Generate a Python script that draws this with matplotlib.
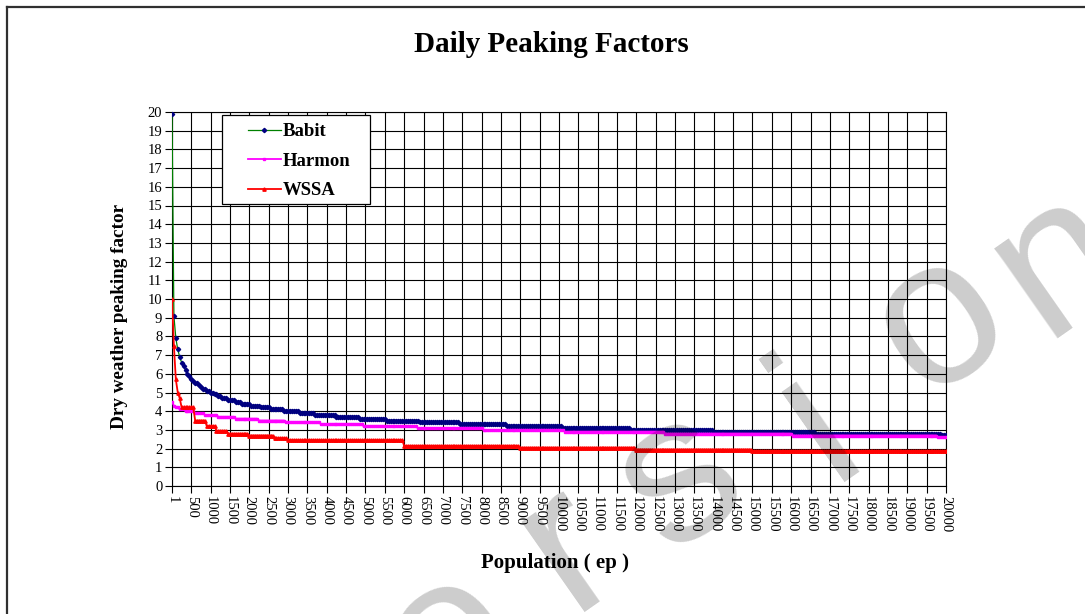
import numpy as np
import matplotlib.pyplot as plt
from matplotlib.lines import Line2D
from matplotlib.patches import Rectangle

plt.rcParams['font.family'] = 'Liberation Serif'

# population categories along the x axis
population = np.concatenate([[1], np.arange(50, 20001, 50)])

# each series as (population where a value starts, peaking factor)
babit_from = [1, 50, 100, 150, 200, 250, 300, 350, 400, 450, 500, 550, 600, 700,
              750, 800, 900, 1000, 1100, 1200, 1300, 1450, 1650, 1800, 2050, 2300,
              2550, 2900, 3300, 3700, 4250, 4850, 5550, 6400, 7450, 8650, 10100,
              11850, 14000, 16650, 19900]
babit_pf = [19.9, 9.1, 7.9, 7.3, 6.9, 6.6, 6.4, 6.2, 6.0, 5.9, 5.7, 5.6, 5.5, 5.4,
            5.3, 5.2, 5.1, 5.0, 4.9, 4.8, 4.7, 4.6, 4.5, 4.4, 4.3, 4.2,
            4.1, 4.0, 3.9, 3.8, 3.7, 3.6, 3.5, 3.4, 3.3, 3.2, 3.1,
            3.0, 2.9, 2.8, 2.75]

harmon_from = [1, 50, 100, 200, 350, 600, 850, 1200, 1650, 2250, 2950, 3850,
               4950, 6350, 8050, 10150, 12750, 16050, 19800]
harmon_pf = [4.5, 4.3, 4.2, 4.1, 4.0, 3.9, 3.8, 3.7, 3.6, 3.5, 3.4, 3.3,
             3.2, 3.1, 3.0, 2.9, 2.8, 2.7, 2.6]

wssa_from = [1, 50, 100, 150, 200, 250, 600, 900, 1150, 1450, 2000, 2650,
             3000, 6000, 9000, 12000, 15000]
wssa_pf = [10.0, 7.5, 5.7, 5.0, 4.7, 4.2, 3.5, 3.2, 2.95, 2.8, 2.7, 2.55,
           2.45, 2.15, 2.05, 1.95, 1.88]

x_ticks = [1] + list(range(500, 20001, 500))
y_ticks = list(range(0, 21))


def expand(starts, values):
    idx = np.searchsorted(starts, population, side='right') - 1
    return np.asarray(values)[idx]


babit = expand(babit_from, babit_pf)
harmon = expand(harmon_from, harmon_pf)
wssa = expand(wssa_from, wssa_pf)

W, H = 1085, 614
fig = plt.figure(figsize=(W / 100, H / 100), dpi=100)
ax = fig.add_axes([172 / W, 1 - 486 / H, 774 / W, 374 / H])

ax.plot(population, babit, color='#008000', lw=0.9, marker='D',
        markersize=2.2, markerfacecolor='#000080', markeredgecolor='#000080',
        label='Babit', zorder=3)
ax.plot(population, harmon, color='#FF00FF', lw=1.3, marker='s',
        markersize=2.0, markerfacecolor='#FF00FF', markeredgecolor='#FF00FF',
        label='Harmon', zorder=4)
ax.plot(population, wssa, color='#FF0000', lw=1.3, marker='^',
        markersize=2.4, markerfacecolor='#FF0000', markeredgecolor='#FF0000',
        label='WSSA', zorder=5)

ax.set_xlim(1, 20000)
ax.set_ylim(0, 20)
ax.set_xticks(x_ticks)
ax.set_xticklabels([str(t) for t in x_ticks], rotation=270, fontsize=10.5)
ax.set_yticks(y_ticks)
ax.set_yticklabels([str(t) for t in y_ticks], fontsize=10.5)
ax.tick_params(axis='both', direction='out', length=5, width=0.8, color='black', pad=2)
ax.grid(True, color='black', lw=0.8)
ax.set_axisbelow(True)
for s in ax.spines.values():
    s.set_color('black')
    s.set_linewidth(0.8)

fig.text(555 / W, 1 - 563 / H, 'Population ( ep )', fontsize=15, fontweight='bold',
         ha='center', va='center')
fig.text(120 / W, 1 - 316 / H, 'Dry weather peaking factor', fontsize=13.8,
         fontweight='bold', rotation=90, ha='center', va='center')
fig.text(551 / W, 1 - 45 / H, 'Daily Peaking Factors', fontsize=21,
         fontweight='bold', ha='center', va='center')

# legend box, then the entries inside it
ax.add_patch(Rectangle(((222 - 172) / 774, (486 - 204) / 374), 148 / 774, 89 / 374,
                       transform=ax.transAxes, facecolor='white', edgecolor='black',
                       lw=0.9, zorder=9))
leg = ax.legend(loc='upper left', bbox_to_anchor=((248 - 172) / 774, (486 - 123) / 374),
                borderaxespad=0, borderpad=0, prop={'size': 13.5, 'weight': 'bold'},
                handlelength=1.75, handletextpad=0.12, labelspacing=0.66,
                frameon=False)
leg.set_zorder(10)

# outer chart border
fig.add_artist(Line2D([7 / W, 7 / W], [0, 1 - 7 / H], transform=fig.transFigure,
                      color='#303030', lw=1.6))
fig.add_artist(Line2D([7 / W, 1], [1 - 7 / H, 1 - 7 / H], transform=fig.transFigure,
                      color='#303030', lw=1.6))

# diagonal watermark, one glyph at a time
mark_letters = ['e', 'r', 's', 'i', 'o', 'n']
mark_x = [450, 568, 680, 820, 940, 1060]
mark_y = [640, 548, 480, 425, 322, 262]
for ch, mx, my in zip(mark_letters, mark_x, mark_y):
    fig.text(mx / W, 1 - my / H, ch, fontsize=150, family='Liberation Sans',
             color='black', alpha=0.2, rotation=35, ha='center', va='center',
             zorder=20)

fig.savefig('out.png', dpi=100)
